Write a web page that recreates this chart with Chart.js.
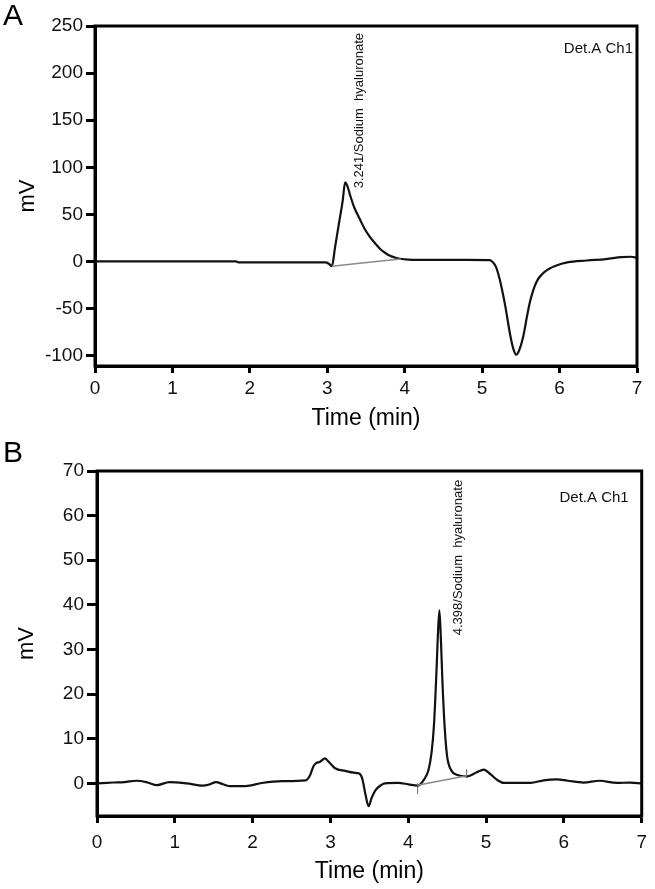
<!DOCTYPE html>
<html><head><meta charset="utf-8">
<script src="https://cdn.jsdelivr.net/npm/chart.js@4.4.0/dist/chart.umd.min.js"></script>
<style>
html,body{margin:0;padding:0;background:#fff;}
#wrap{position:relative;width:655px;height:889px;}
.c{position:absolute;left:0;}
</style></head><body>
<div id="wrap">
<div class="c" style="top:0;width:655px;height:440px"><canvas id="ca"></canvas></div>
<div class="c" style="top:440px;width:655px;height:449px"><canvas id="cb"></canvas></div>
</div>
<script>
// ---- Data ----
const timeTicks = [0, 1, 2, 3, 4, 5, 6, 7];
const yTicksA = [-100, -50, 0, 50, 100, 150, 200, 250];
const yTicksB = [0, 10, 20, 30, 40, 50, 60, 70];

// Panel A chromatogram (time in min, signal in mV)
const timesA = [0, 0.5, 1.0, 1.5, 1.82, 1.86, 2.4, 2.98, 3.02, 3.06,
  3.10, 3.15, 3.20, 3.23, 3.26, 3.30, 3.35, 3.42, 3.48, 3.55,
  3.62, 3.68, 3.75, 3.81, 3.88, 3.94, 4.05, 4.30, 4.80, 5.10,
  5.14, 5.18, 5.23, 5.30, 5.36, 5.40, 5.44, 5.48, 5.53, 5.58,
  5.62, 5.70, 5.78, 5.86, 5.95, 6.10, 6.35, 6.60, 6.80, 6.92, 7.0];
const signalA = [0, 0, 0, 0, 0, -1, -1, -1, -2.5, -5,
  15, 40, 65, 84, 80, 69, 57, 45, 35, 26,
  19, 13.5, 9, 6, 4, 2.9, 2.0, 1.6, 1.6, 1.5,
  -1, -6, -20, -48, -77, -92, -99, -94, -80, -58,
  -42, -22, -13, -8, -4.5, -1, 1, 2.5, 4.5, 5, 4];
const baseTimesA = [3.06, 3.95];
const baseA = [-5, 2.5];

// Panel B chromatogram
const timesB = [0, 0.21, 0.35, 0.51, 0.65, 0.77, 0.93, 1.15, 1.36, 1.45,
  1.53, 1.62, 1.70, 1.91, 2.12, 2.38, 2.68, 2.74, 2.78, 2.82,
  2.86, 2.93, 2.98, 3.06, 3.19, 3.30, 3.37, 3.41, 3.45, 3.49,
  3.53, 3.58, 3.64, 3.70, 3.87, 4.00, 4.12, 4.20, 4.26, 4.30,
  4.33, 4.36, 4.38, 4.40, 4.42, 4.44, 4.47, 4.50, 4.55, 4.63,
  4.76, 4.88, 4.97, 5.06, 5.15, 5.23, 5.57, 5.74, 5.91, 6.05,
  6.25, 6.46, 6.68, 6.85, 7.0];
const signalB = [0, 0.2, 0.3, 0.6, 0.2, -0.4, 0.3, 0, -0.5, -0.2,
  0.3, -0.2, -0.6, -0.6, 0.1, 0.5, 0.7, 1.9, 3.8, 4.6,
  4.8, 5.6, 4.8, 3.4, 2.8, 2.4, 2.2, 1.0, -2.5, -5.1,
  -3.2, -1.5, -0.5, 0, 0.1, -0.2, -0.5, 0.8, 3, 7,
  13, 24, 33, 38.8, 32, 22.4, 12, 6, 3, 1.9,
  1.6, 2.5, 3.1, 2, 0.7, 0.1, 0.1, 0.7, 0.9, 0.6,
  0.2, 0.6, 0.1, 0.2, 0];
const baseTimesB = [4.12, 4.75];
const baseB = [-0.4, 1.7];
const markStartT = [4.12, 4.12];
const markStartV = [-2.4, 0];
const markEndT = [4.75, 4.75];
const markEndV = [1.2, 3.1];

const peakLabelA = '3.241/Sodium  hyaluronate';
const peakLabelB = '4.398/Sodium  hyaluronate';
const detLabel = 'Det.A Ch1';

// ---- helpers ----
const FONT = '"Liberation Sans", Arial, Helvetica, sans-serif';
const pts = (xs, ys) => xs.map((x, i) => ({x: x, y: ys[i]}));

const decor = {
  id: 'decor',
  afterDatasetsDraw(chart, args, o) {
    const {ctx, chartArea: a, scales: {x, y}} = chart;
    ctx.save();
    ctx.strokeStyle = '#000';
    ctx.lineWidth = 3;
    ctx.strokeRect(a.left, a.top, a.right - a.left, a.bottom - a.top);
    ctx.fillStyle = '#111';
    ctx.font = '15px ' + FONT;
    ctx.textAlign = 'right';
    ctx.textBaseline = 'alphabetic';
    ctx.fillText(o.det, a.right - o.detDx, a.top + o.detDy);
    ctx.save();
    ctx.translate(x.getPixelForValue(o.peakT), y.getPixelForValue(o.peakV));
    ctx.rotate(-Math.PI / 2);
    ctx.font = '13px ' + FONT;
    ctx.textAlign = 'left';
    ctx.textBaseline = 'middle';
    ctx.fillText(o.peakText, 0, 0);
    ctx.restore();
    ctx.font = '30px ' + FONT;
    ctx.textAlign = 'left';
    ctx.textBaseline = 'alphabetic';
    ctx.fillStyle = '#000';
    ctx.fillText(o.letter, 3, o.letterY);
    ctx.restore();
  }
};

function makeChart(id, cfg) {
  return new Chart(document.getElementById(id), {
    type: 'line',
    data: {datasets: cfg.datasets},
    plugins: [decor],
    options: {
      responsive: true,
      maintainAspectRatio: false,
      animation: false,
      events: [],
      layout: {padding: cfg.padding},
      plugins: {legend: {display: false}, tooltip: {enabled: false}, decor: cfg.decor},
      elements: {point: {radius: 0}, line: {cubicInterpolationMode: 'monotone'}},
      scales: {
        x: {
          type: 'linear', min: 0, max: 7,
          afterBuildTicks: s => { s.ticks = timeTicks.map(v => ({value: v})); },
          afterFit: s => { s.height = cfg.xHeight; },
          grid: {display: true, drawOnChartArea: false, drawTicks: true, tickLength: 7, tickWidth: 3, tickColor: '#000', color: '#000'},
          border: {display: true, width: 3, color: '#000'},
          ticks: {color: '#111', font: {family: FONT, size: 19}, padding: cfg.xTickPad, maxRotation: 0},
          title: {display: true, text: 'Time (min)', color: '#000', font: {family: FONT, size: 23}, padding: {top: 0, bottom: cfg.xTitlePad}}
        },
        y: {
          type: 'linear', min: cfg.yMin, max: cfg.yMax,
          afterBuildTicks: s => { s.ticks = cfg.yTicks.map(v => ({value: v})); },
          afterFit: s => { s.width = cfg.yWidth; },
          grid: {display: true, drawOnChartArea: false, drawTicks: true, tickLength: cfg.yTickLen, tickWidth: 3, tickColor: '#000', color: '#000'},
          border: {display: true, width: 3, color: '#000'},
          ticks: {color: '#111', font: {family: FONT, size: 19}, padding: 3},
          title: {display: true, text: 'mV', color: '#000', font: {family: FONT, size: 22}, padding: {top: cfg.yTitlePad, bottom: 0}}
        }
      }
    }
  });
}

makeChart('ca', {
  padding: {left: 0, top: 26, right: 18, bottom: 0},
  xHeight: 74, xTickPad: 4, xTitlePad: 8,
  yMin: -111, yMax: 250, yTicks: yTicksA, yWidth: 95, yTickLen: 9, yTitlePad: 15,
  decor: {det: detLabel, detDx: 4, detDy: 27, peakT: 3.41, peakV: 77.6, peakText: peakLabelA, letter: 'A', letterY: 25},
  datasets: [
    {data: pts(baseTimesA, baseA), borderColor: '#8a8a8a', borderWidth: 1.5, tension: 0},
    {data: pts(timesA, signalA), borderColor: '#111', borderWidth: 2.2}
  ]
});

makeChart('cb', {
  padding: {left: 0, top: 31, right: 9, bottom: 0},
  xHeight: 73, xTickPad: 8, xTitlePad: 4,
  yMin: -7.3, yMax: 70, yTicks: yTicksB, yWidth: 97, yTickLen: 10, yTitlePad: 14,
  decor: {det: detLabel, detDx: 13, detDy: 31, peakT: 4.64, peakV: 33.2, peakText: peakLabelB, letter: 'B', letterY: 22},
  datasets: [
    {data: pts(baseTimesB, baseB), borderColor: '#8a8a8a', borderWidth: 1.5, tension: 0},
    {data: pts(markStartT, markStartV), borderColor: '#555', borderWidth: 1, tension: 0},
    {data: pts(markEndT, markEndV), borderColor: '#555', borderWidth: 1, tension: 0},
    {data: pts(timesB, signalB), borderColor: '#111', borderWidth: 2.2}
  ]
});
</script>
</body></html>
